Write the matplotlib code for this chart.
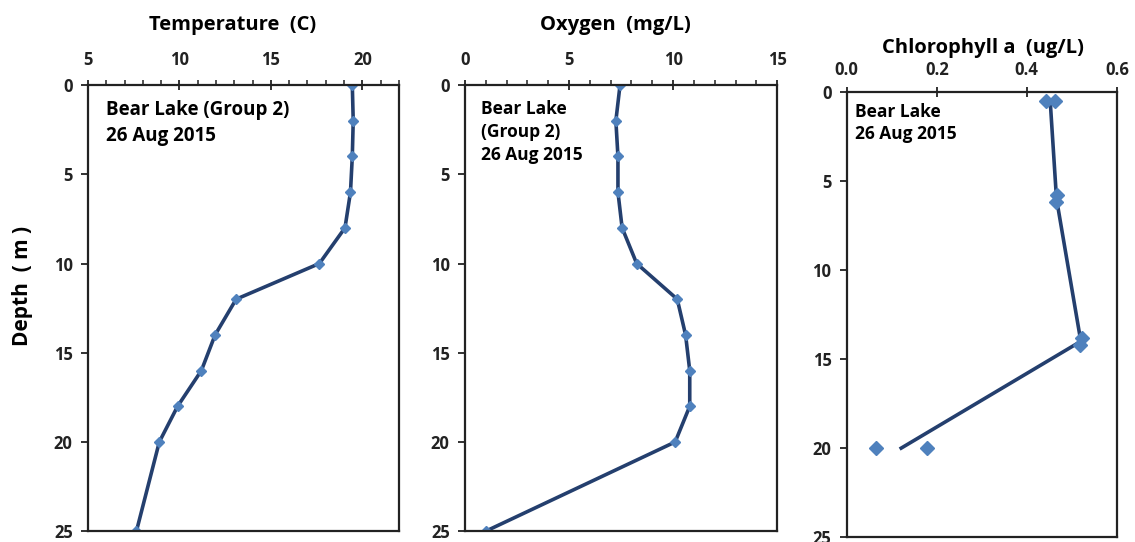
import matplotlib.pyplot as plt
from matplotlib.ticker import MultipleLocator

plt.rcParams['font.family'] = ['Open Sans', 'DejaVu Sans']
plt.rcParams['font.weight'] = 'bold'

# temperature and oxygen profiles
depth = [0, 2, 4, 6, 8, 10, 12, 14, 16, 18, 20, 25]
temp = [19.45, 19.5, 19.45, 19.35, 19.05, 17.65, 13.1, 11.95, 11.2, 9.9, 8.9, 7.65]
oxygen = [7.45, 7.25, 7.35, 7.35, 7.55, 8.25, 10.2, 10.6, 10.8, 10.8, 10.1, 1.0]

# chlorophyll: replicate samples and mean profile
chl_depth = [0.5, 0.5, 5.8, 6.2, 13.8, 14.2, 20, 20]
chl = [0.442, 0.462, 0.468, 0.465, 0.522, 0.518, 0.064, 0.178]
chl_mean_depth = [0.5, 6, 14, 20]
chl_mean = [0.452, 0.466, 0.52, 0.121]

line_c = '#243F6E'
mark_c = '#4F81BD'

fig = plt.figure(figsize=(11.35, 5.42), dpi=100)
ax1 = fig.add_axes([0.0775, 0.020, 0.274, 0.823])
ax2 = fig.add_axes([0.4097, 0.020, 0.275, 0.823])
ax3 = fig.add_axes([0.746, 0.009, 0.238, 0.821])

ax1.plot(temp, depth, color=line_c, lw=2.6, marker='D', ms=5, mfc=mark_c, mec=mark_c)
ax2.plot(oxygen, depth, color=line_c, lw=2.6, marker='D', ms=5, mfc=mark_c, mec=mark_c)
ax3.plot(chl_mean, chl_mean_depth, color=line_c, lw=2.6)
ax3.plot(chl, chl_depth, ls='none', marker='D', ms=7.5, mfc=mark_c, mec=mark_c)

ax1.set_xlim(5, 22)
ax1.xaxis.set_major_locator(MultipleLocator(5))
ax1.xaxis.set_minor_locator(MultipleLocator(1))
ax2.set_xlim(0, 15)
ax2.xaxis.set_major_locator(MultipleLocator(5))
ax2.xaxis.set_minor_locator(MultipleLocator(1))
ax3.set_xlim(0, 0.6)
ax3.set_xticks([0.0, 0.2, 0.4, 0.6])
ax3.set_xticklabels(['0.0', '0.2', '0.4', '0.6'])

for ax in [ax1, ax2, ax3]:
    ax.set_ylim(25, 0)
    ax.yaxis.set_major_locator(MultipleLocator(5))
    ax.xaxis.tick_top()
    ax.tick_params(axis='x', which='major', direction='inout', length=7, width=1.3,
                   labelsize=12, pad=8 if ax is not ax3 else 6, colors='#222222')
    ax.tick_params(axis='x', which='minor', direction='out', length=3.5, width=1.1, colors='#222222')
    ax.tick_params(axis='y', direction='out', length=5, width=1.3, labelsize=12, pad=6,
                   colors='#222222')
    for s in ax.spines.values():
        s.set_linewidth(1.6)
        s.set_color('#222222')

# titles
fig.text(233 / 1135, 1 - 25 / 542, 'Temperature  (C)', fontsize=14.5, ha='center', va='center')
fig.text(615 / 1135, 1 - 25 / 542, 'Oxygen  (mg/L)', fontsize=14.5, ha='center', va='center')
fig.text(983 / 1135, 1 - 48 / 542, 'Chlorophyll a  (ug/L)', fontsize=14.5, ha='center', va='center')

ax1.text(0.058, 0.966, 'Bear Lake (Group 2)\n26 Aug 2015', transform=ax1.transAxes,
         fontsize=13.5, va='top', linespacing=1.4)
ax2.text(0.051, 0.966, 'Bear Lake\n(Group 2)\n26 Aug 2015', transform=ax2.transAxes,
         fontsize=12.5, va='top', linespacing=1.35)
ax3.text(0.03, 0.975, 'Bear Lake\n26 Aug 2015', transform=ax3.transAxes,
         fontsize=12.5, va='top', linespacing=1.3)

fig.text(0.02, 0.472, 'Depth  ( m )', rotation=90, fontsize=15, fontweight='bold',
         ha='center', va='center')

fig.savefig('out.png', dpi=100)
